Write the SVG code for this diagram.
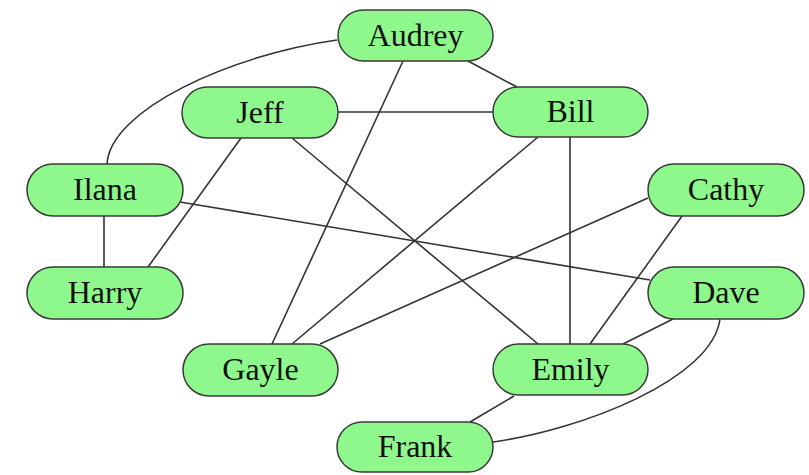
<svg xmlns="http://www.w3.org/2000/svg" width="809" height="475" viewBox="0 0 809 475">
<style>
.n rect{fill:#8ef88c;stroke:#3a3a3a;stroke-width:1.5}
.n text{font-family:'Liberation Serif','DejaVu Serif',serif;font-size:32px;fill:#111;text-anchor:middle}
#edges path,#edges line{stroke:#333;stroke-width:1.6;fill:none}
</style>
<rect width="809" height="475" fill="#fff"/>
<g id="edges">
<path d="M337,40 C230,55 110,110 107,164"/>
<line x1="468" y1="61" x2="517" y2="87"/>
<line x1="403" y1="61" x2="272" y2="344"/>
<line x1="338" y1="112" x2="493" y2="112"/>
<line x1="241" y1="138" x2="148" y2="267"/>
<line x1="292" y1="138" x2="538" y2="344"/>
<line x1="538" y1="137" x2="292" y2="344"/>
<line x1="570" y1="137" x2="570" y2="344"/>
<line x1="104" y1="216" x2="104" y2="267"/>
<line x1="180" y1="202" x2="650" y2="280"/>
<line x1="648" y1="198" x2="320" y2="344"/>
<line x1="682" y1="216" x2="590" y2="344"/>
<line x1="673" y1="319" x2="623" y2="344"/>
<path d="M720,319 C712,380 580,430 493,442"/>
<line x1="514" y1="396" x2="470" y2="422"/>
</g>
<g font-family="Liberation Serif, DejaVu Serif, serif">
<g id="audrey" class="n"><rect x="338" y="10" width="155" height="51" rx="25.5"/><text x="415.5" y="46" font-family="Liberation Serif, serif">Audrey</text></g>
<g id="jeff" class="n"><rect x="182" y="87" width="156" height="51" rx="25.5"/><text x="260" y="123" font-family="Liberation Serif, serif">Jeff</text></g>
<g id="bill" class="n"><rect x="493" y="87" width="155" height="50" rx="25"/><text x="570.5" y="122" font-family="Liberation Serif, serif">Bill</text></g>
<g id="ilana" class="n"><rect x="27" y="164" width="156" height="52" rx="26"/><text x="105" y="200" font-family="Liberation Serif, serif">Ilana</text></g>
<g id="cathy" class="n"><rect x="648" y="164" width="156" height="52" rx="26"/><text x="726" y="200" font-family="Liberation Serif, serif">Cathy</text></g>
<g id="harry" class="n"><rect x="27" y="267" width="156" height="52" rx="26"/><text x="105" y="303" font-family="Liberation Serif, serif">Harry</text></g>
<g id="dave" class="n"><rect x="648" y="267" width="156" height="52" rx="26"/><text x="726" y="303" font-family="Liberation Serif, serif">Dave</text></g>
<g id="gayle" class="n"><rect x="183" y="344" width="155" height="52" rx="26"/><text x="260.5" y="380" font-family="Liberation Serif, serif">Gayle</text></g>
<g id="emily" class="n"><rect x="493" y="344" width="155" height="51" rx="25.5"/><text x="570.5" y="380" font-family="Liberation Serif, serif">Emily</text></g>
<g id="frank" class="n"><rect x="337" y="422" width="156" height="50" rx="25"/><text x="415" y="457" font-family="Liberation Serif, serif">Frank</text></g>
</g>
</svg>
